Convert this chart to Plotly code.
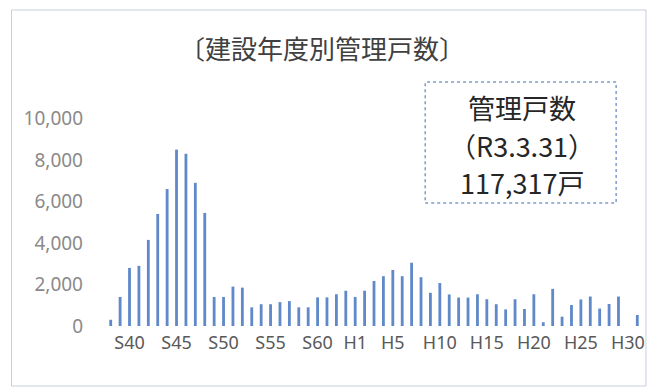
import plotly.graph_objects as go

# Construction-year categories (Showa 38 .. Reiwa 1)
years = [f"S{n}" for n in range(38, 64)] + [f"H{n}" for n in range(1, 31)] + ["R1"]

# Managed dwelling units by construction year
units = [
    300, 1400, 2800, 2900, 4150, 5400, 6600, 8500, 8300, 6900, 5450, 1400,
    1400, 1900, 1850, 900, 1050, 1050, 1150, 1200, 900, 900,
    1380, 1380, 1530, 1700,
    1400, 1700, 2170, 2400, 2700, 2400, 3050, 2350, 1600, 2070,
    1520, 1370, 1370, 1530, 1290, 1050, 800, 1290, 820, 1530,
    180, 1790, 450, 1010, 1280, 1420, 840, 1060, 1420, 0, 530,
]

x_labels = ["S40", "S45", "S50", "S55", "S60", "H1", "H5", "H10", "H15", "H20", "H25", "H30"]
y_ticks = [0, 2000, 4000, 6000, 8000, 10000]

title_text = "〔建設年度別管理戸数〕"
box_lines = ["管理戸数", "（R3.3.31）", "117,317戸"]

W, H = 653, 389
M_L, M_R, M_T, M_B = 106, 8, 77, 63


def px(x):
    return (x - M_L) / (W - M_L - M_R)


def py(y):
    return (H - M_B - y) / (H - M_T - M_B)


fig = go.Figure(
    go.Bar(
        x=years,
        y=units,
        width=0.3,
        marker=dict(color="#5f89c9", line=dict(width=0)),
    )
)

jp = "Noto Sans CJK JP"

fig.update_layout(
    width=W,
    height=H,
    margin=dict(l=M_L, r=M_R, t=M_T, b=M_B),
    paper_bgcolor="white",
    plot_bgcolor="white",
    showlegend=False,
    xaxis=dict(
        type="category",
        range=[-0.5, len(years) - 0.5],
        tickmode="array",
        tickvals=x_labels,
        ticktext=x_labels,
        tickangle=0,
        showgrid=False,
        zeroline=False,
        showline=False,
        ticks="",
        ticklabelstandoff=4,
        tickfont=dict(family="Noto Sans", size=18, color="#595959"),
    ),
    yaxis=dict(
        range=[0, 12000],
        tickmode="array",
        tickvals=y_ticks,
        tickformat=",",
        showgrid=False,
        zeroline=False,
        showline=False,
        ticks="",
        ticklabelstandoff=22,
        tickfont=dict(family="Noto Sans", size=19, color="#8a8a8a"),
    ),
)

# Chart title
fig.add_annotation(
    x=px(323), y=py(47), xref="paper", yref="paper",
    text=title_text, showarrow=False,
    xanchor="center", yanchor="middle",
    font=dict(family=jp, size=26, color="#404040"),
)

# Dashed callout box with the total
fig.add_shape(
    type="rect", xref="paper", yref="paper",
    x0=px(427), x1=px(619), y0=py(203), y1=py(82),
    line=dict(color="#7f9cc8", width=1.5, dash="dot"),
    fillcolor="white",
)
for line, yc in zip(box_lines, [107, 145, 182]):
    fig.add_annotation(
        x=px(524), y=py(yc), xref="paper", yref="paper",
        text=line, showarrow=False,
        xanchor="center", yanchor="middle",
        font=dict(family=jp, size=27, color="#262626"),
    )

# Outer frame
fig.add_shape(
    type="rect", xref="paper", yref="paper",
    x0=px(11), x1=px(649), y0=py(386), y1=py(10),
    line=dict(color="#c8cfda", width=1),
)

fig.write_html("out.html")
